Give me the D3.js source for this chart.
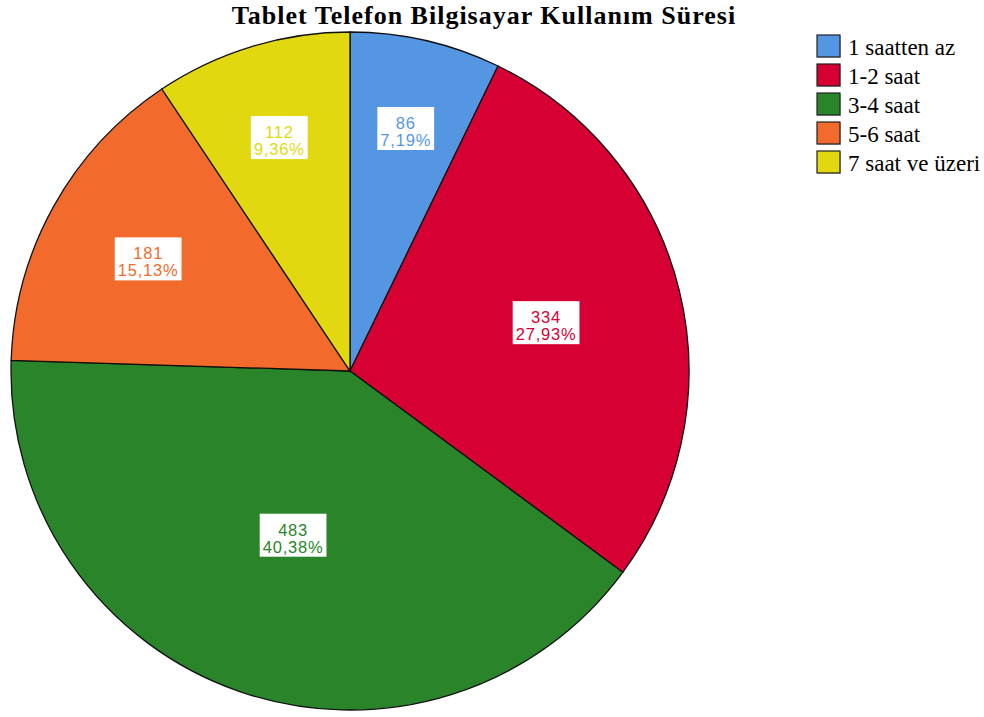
<!DOCTYPE html>
<html>
<head>
<meta charset="utf-8">
<script src="https://cdn.jsdelivr.net/npm/d3@7"></script>
<style>
  body { margin: 0; background: #fff; }
  svg { display: block; }
</style>
</head>
<body>
<script>
// Data
var categories = ['1 saatten az', '1-2 saat', '3-4 saat', '5-6 saat', '7 saat ve üzeri']
var counts = [86, 334, 483, 181, 112]
var percents = ['7,19%', '27,93%', '40,38%', '15,13%', '9,36%']
var colors = ['#5596e3', '#d60033', '#2a852a', '#f36b2c', '#e2d810']

var width = 984
var height = 717

var svg = d3.select('body').append('svg')
    .attr('width', width)
    .attr('height', height)

// title
svg.append('text')
    .attr('x', 484)
    .attr('y', 24)
    .attr('text-anchor', 'middle')
    .style('font-family', '"Liberation Serif", "Times New Roman", serif')
    .style('font-weight', 'bold')
    .style('font-size', '26px')
    .style('letter-spacing', '1px')
    .text('Tablet Telefon Bilgisayar Kullanım Süresi')

var cx = 350
var cy = 371
var R = 339

var total = d3.sum(counts)
var pie = d3.pie().sort(null).value(d => d)
var arcs = pie(counts)

var arc = d3.arc().innerRadius(0).outerRadius(R)

var g = svg.append('g')
    .attr('transform', 'translate(' + cx + ',' + cy + ')')

g.selectAll('path.slice')
  .data(arcs).enter()
  .append('path')
    .attr('class', 'slice')
    .attr('d', arc)
    .attr('fill', (d, i) => colors[i])
    .attr('stroke', '#111')
    .attr('stroke-width', 1.3)

// labels, smaller slices pushed further out
var labels = g.selectAll('g.label')
  .data(arcs).enter()
  .append('g')
    .attr('class', 'label')
    .attr('transform', d => {
      var f = d.value / total
      var lr = R * (0.782 - 0.667 * f)
      var a = (d.startAngle + d.endAngle) / 2
      return 'translate(' + (Math.sin(a) * lr) + ',' + (-Math.cos(a) * lr) + ')'
    })

var box = labels.append('rect')
    .attr('y', -21.5)
    .attr('height', 43)
    .attr('fill', '#fff')

var fontLab = '"Liberation Sans", Arial, sans-serif'

labels.append('text')
    .attr('class', 'l1')
    .attr('text-anchor', 'middle')
    .attr('y', 0.5)
    .style('font-family', fontLab)
    .style('font-size', '16.5px')
    .style('letter-spacing', '0.8px')
    .attr('fill', (d, i) => colors[i])
    .text(d => d.value)

labels.append('text')
    .attr('class', 'l2')
    .attr('text-anchor', 'middle')
    .attr('y', 17.5)
    .style('font-family', fontLab)
    .style('font-size', '16.5px')
    .style('letter-spacing', '0.8px')
    .attr('fill', (d, i) => colors[i])
    .text((d, i) => percents[i])

// size the white boxes to the text
labels.each(function () {
  var lab = d3.select(this)
  var w = Math.max(lab.select('.l1').node().getComputedTextLength(),
                   lab.select('.l2').node().getComputedTextLength()) + 6
  lab.select('rect').attr('x', -w / 2).attr('width', w)
})

// legend
var legend = svg.append('g')
    .attr('transform', 'translate(817,35)')

var items = legend.selectAll('g.item')
  .data(categories).enter()
  .append('g')
    .attr('class', 'item')
    .attr('transform', (d, i) => 'translate(0,' + (i * 29) + ')')

items.append('rect')
    .attr('x', 1)
    .attr('y', 1)
    .attr('width', 23)
    .attr('height', 22)
    .attr('fill', '#999')
    .attr('opacity', 0.5)

items.append('rect')
    .attr('width', 23)
    .attr('height', 22)
    .attr('fill', (d, i) => colors[i])
    .attr('stroke', '#222')
    .attr('stroke-width', 1.2)

items.append('text')
    .attr('x', 31)
    .attr('y', 20)
    .style('font-family', '"Liberation Serif", "Times New Roman", serif')
    .style('font-size', '23px')
    .text(d => d)
</script>
</body>
</html>
